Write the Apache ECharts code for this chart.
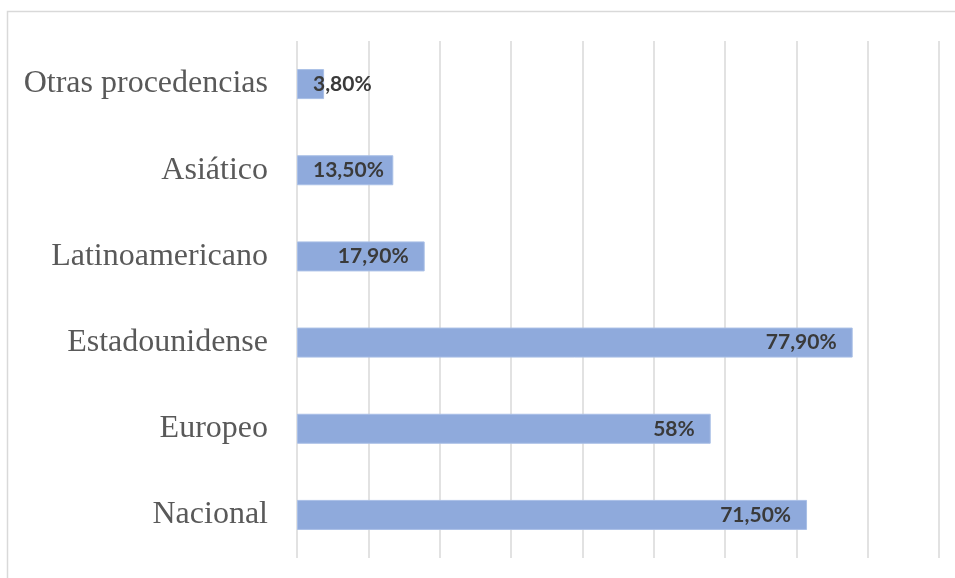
<!DOCTYPE html>
<html>
<head>
<meta charset="utf-8">
<script src="https://cdn.jsdelivr.net/npm/echarts@6/dist/echarts.min.js"></script>
<style>
  html, body { margin: 0; padding: 0; background: #ffffff; }
  #chart { width: 955px; height: 578px; }
</style>
</head>
<body>
<div id="chart"></div>
<script>
// Procedencia del turismo (porcentaje), de abajo hacia arriba
const categories = ['Nacional', 'Europeo', 'Estadounidense', 'Latinoamericano', 'Asiático', 'Otras procedencias'];
const values = [71.5, 58, 77.9, 17.9, 13.5, 3.8];
const valueLabels = ['71,50%', '58%', '77,90%', '17,90%', '13,50%', '3,80%'];

const axisMin = 0, axisMax = 90, axisStep = 10;

const chart = echarts.init(document.getElementById('chart'), null, { renderer: 'canvas' });

// Short bars cannot hold their label inside the end; anchor it to the bar start instead
const seriesData = values.map((v, i) => {
  const item = { value: v };
  if (v < 15) {
    item.label = { position: [16, '50%'], align: 'left', verticalAlign: 'middle' };
  }
  return item;
});

chart.setOption({
  backgroundColor: '#ffffff',
  animation: false,
  graphic: [{
    type: 'rect',
    shape: { x: 7.5, y: 11.5, width: 1000, height: 620 },
    style: { fill: 'none', stroke: '#d9d9d9', lineWidth: 1.5 },
    silent: true, z: -1
  }],
  grid: { left: 297, right: 16, top: 41, bottom: 20, containLabel: false },
  xAxis: {
    type: 'value', min: axisMin, max: axisMax, interval: axisStep,
    axisLabel: { show: false }, axisLine: { show: false }, axisTick: { show: false },
    splitLine: { show: true, lineStyle: { color: '#d9d9d9', width: 1.5 } }
  },
  yAxis: {
    type: 'category', data: categories,
    axisLine: { show: false }, axisTick: { show: false },
    axisLabel: {
      margin: 29, color: '#595959', padding: [8, 0, 0, 0],
      fontFamily: '"Liberation Serif", "Times New Roman", serif', fontSize: 32
    }
  },
  series: [{
    type: 'bar',
    data: seriesData,
    barWidth: 30,
    itemStyle: { color: '#8faadc', borderColor: '#a9bfe6', borderWidth: 1 },
    label: {
      show: true, position: 'insideRight', distance: 16, padding: [2, 0, 0, 0],
      color: '#3a3a3a', fontFamily: 'Lato, "Open Sans", sans-serif', fontWeight: 'bold', fontSize: 21,
      formatter: p => valueLabels[p.dataIndex]
    }
  }]
});
</script>
</body>
</html>
